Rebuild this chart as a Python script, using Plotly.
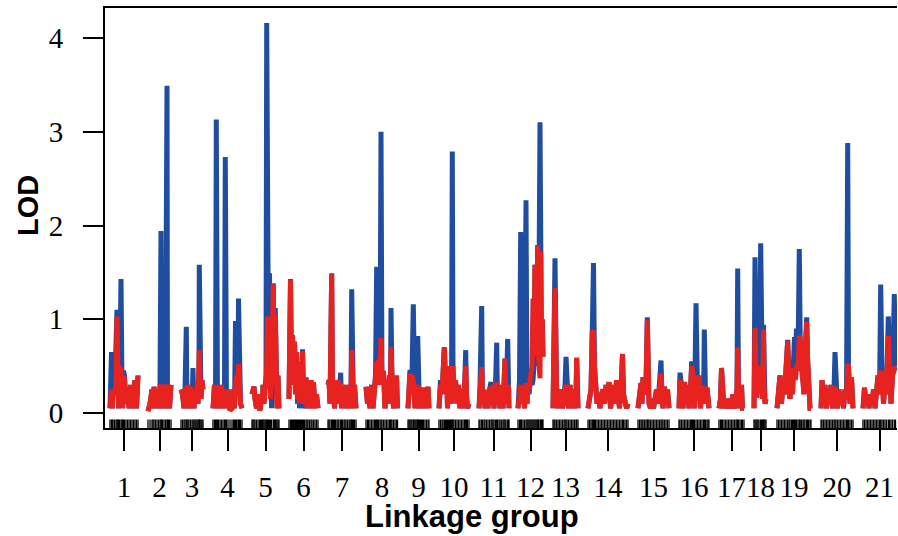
import plotly.graph_objects as go

GROUP_LABELS = [str(i) for i in range(1, 22)]
GROUP_LENGTHS = [28, 23, 22, 29, 27, 29, 28, 32, 21, 30, 29, 25, 25, 40, 31, 30, 25, 13, 34, 32, 33]
GROUP_GAP = 10

POSITIONS = [
    [0, 1.5, 2.2, 3, 4.5, 6, 7, 7.8, 8.5, 9.5, 11, 12, 12.6, 13.5, 14.5, 16, 17.5, 19, 20.5, 22, 23.5, 25, 26.5, 28],
    [0, 2, 4, 5, 6, 7.5, 9, 10.5, 12, 13, 13.5, 14.5, 16, 17.5, 19, 19.5, 20.5, 21.5, 23],
    [0, 1.5, 3, 4, 5.3, 6, 7, 8, 9.5, 11, 12, 13, 14, 15, 16, 17, 18, 18.3, 19, 20, 21, 22],
    [0, 1.5, 2.5, 3.3, 4.5, 5.5, 7, 8.5, 10, 11.5, 12.3, 13.5, 15, 17, 19, 20.5, 21.5, 22.5, 23.5, 25, 25.5, 26.5, 27.5, 29],
    [0, 1, 2, 3, 4.5, 6, 7.5, 8.5, 9.5, 10.5, 11, 12, 13, 14, 14.7, 15.5, 16.5, 17.5, 18.5, 19.5, 21.3, 22.3, 23.3, 24, 25, 26, 27],
    [0, 1.5, 2.5, 3.5, 4.5, 5.5, 6.5, 7.5, 8.5, 9.5, 10.5, 11.5, 12.5, 13.5, 14.5, 15.5, 17, 18, 19, 20.5, 22, 23, 24.5, 26, 27.5, 29],
    [0, 1, 2, 3.7, 4.5, 5.5, 6.5, 7.5, 9, 10, 11, 12.7, 13.5, 14.5, 16, 17, 18, 19.5, 21, 22, 23, 23.7, 24.5, 25.5, 26.5, 28],
    [0, 1.5, 2.5, 4, 5.5, 7, 8.5, 9.5, 10.7, 11.5, 12.5, 14, 15, 16, 17.5, 19, 20.5, 22, 23.5, 24.5, 25, 26, 27.5, 29, 30.5, 31.5],
    [0, 1, 2, 3, 4, 5.3, 6, 7, 8, 9, 9.7, 10.5, 11.5, 12.5, 13.5, 14.5, 15.5, 17, 18.5, 20, 21],
    [0, 1.5, 3, 4, 5.3, 6.5, 7.5, 8.5, 9.5, 10.5, 11.5, 12.5, 13.3, 14, 15, 16.5, 18, 19.5, 21, 22.5, 24, 25.5, 26.7, 27.5, 28.5, 30],
    [0, 1, 2.7, 3.5, 5, 6, 7.5, 9, 10.5, 12, 13, 14, 15, 16.5, 17.7, 18.5, 20, 21, 22.5, 24, 25, 26, 27, 28.7, 29.5, 30],
    [0, 1.5, 2.7, 3.5, 5, 6.5, 8, 9, 10, 11, 12, 13, 14, 15, 16, 17, 18, 19, 19.7, 20.5, 22, 22.7, 23.5, 24.3, 25],
    [0, 1, 2, 3.5, 5, 6.5, 8, 9.5, 11, 12, 13, 14, 15.5, 17, 18.5, 20, 21.5, 23, 23.7, 25],
    [0, 1.5, 3, 4.3, 5.5, 6.5, 7.5, 9, 10.5, 12, 13.5, 15, 16.5, 18, 19.5, 21, 22.5, 24, 25.5, 27, 28.5, 30, 31.5, 33, 34.5, 35.5, 37, 38.5, 40],
    [0, 1.5, 3, 4, 5, 6.5, 8, 9.3, 10, 11, 12.5, 14, 15.5, 17, 18.5, 20, 21.5, 23, 24, 25, 26.5, 28, 29.5, 31],
    [0, 1, 2.5, 4, 5.5, 7, 8.5, 10, 11.5, 12.7, 13.5, 14.5, 15.5, 17, 18.5, 20, 21.5, 23, 24.5, 25.3, 26.5, 28, 29, 30],
    [0, 1.5, 2.5, 3.5, 5, 6.5, 8, 9.5, 11, 12.5, 14, 15.5, 17, 18, 18.7, 19.5, 21, 22.5, 23.5, 25],
    [0, 1, 2, 3, 4, 5, 6.7, 7.5, 8.5, 9.5, 10, 11, 12],
    [0, 1.5, 3, 4.5, 6, 7.5, 9, 10.7, 12, 13, 14.5, 15.5, 16.5, 17.5, 18.5, 19.5, 21, 22.3, 23.2, 24.5, 26, 27, 28, 29.7, 30.5, 31.5, 33, 34],
    [0, 1, 2.5, 4, 5.5, 7, 8.5, 10, 11.5, 13, 14, 15, 16.5, 18, 19.5, 21, 22.5, 24, 25.5, 26.7, 27.5, 29, 30.5, 32],
    [0, 1.5, 3, 4.5, 6, 7.5, 9, 10.5, 12, 13.5, 15, 16.5, 17.7, 19, 20.5, 22, 23.5, 25.3, 26.5, 28, 29.5, 31.3, 32.5],
]

BLUE_LOD = [
    [0.05, 0.65, 0.05, 0.25, 0.2, 1.1, 1.1, 0.3, 0.05, 0.2, 1.43, 0.3, 0.05, 0.45, 0.4, 0.1, 0.25, 0.05, 0.3, 0.05, 0.2, 0.35, 0.05, 0.4],
    [0.02, 0.1, 0.25, 0.05, 0.28, 0.05, 0.25, 0.05, 0.28, 1.94, 0.05, 0.28, 0.05, 0.28, 3.49, 0.05, 0.3, 0.05, 0.3],
    [0.25, 0.2, 0.05, 0.25, 0.92, 0.05, 0.3, 0.1, 0.28, 0.05, 0.48, 0.05, 0.25, 0.1, 0.3, 0.1, 0.4, 1.58, 0.35, 0.15, 0.35, 0.25],
    [0.05, 0.3, 0.05, 3.13, 0.05, 0.3, 0.05, 0.3, 0.05, 0.25, 2.73, 0.05, 0.25, 0.03, 0.05, 0.25, 0.05, 0.98, 0.4, 0.3, 1.22, 0.35, 0.1, 0.05],
    [0.2, 0.28, 0.28, 0.15, 0.05, 0.2, 0.03, 0.05, 0.2, 0.15, 0.3, 0.1, 0.25, 0.4, 4.16, 1.0, 0.6, 1.49, 0.2, 0.05, 1.38, 0.3, 1.12, 0.1, 0.05, 0.4, 0.05],
    [0.15, 1.43, 0.4, 0.83, 0.3, 0.76, 0.2, 0.65, 0.1, 0.55, 0.05, 0.3, 0.15, 0.68, 0.2, 0.05, 0.38, 0.05, 0.3, 0.1, 0.35, 0.05, 0.33, 0.05, 0.2, 0.05],
    [0.3, 0.35, 0.1, 1.49, 0.2, 0.35, 0.05, 0.3, 0.1, 0.35, 0.2, 0.43, 0.05, 0.3, 0.05, 0.25, 0.05, 0.3, 0.05, 0.25, 0.2, 1.32, 0.3, 0.05, 0.3, 0.05],
    [0.28, 0.1, 0.25, 0.05, 0.3, 0.05, 0.25, 0.4, 1.56, 0.3, 0.57, 0.4, 3.0, 0.3, 0.45, 0.05, 0.35, 0.1, 0.4, 0.3, 1.12, 0.35, 0.05, 0.25, 0.4, 0.05],
    [0.05, 0.3, 0.46, 0.2, 0.4, 1.16, 0.25, 0.05, 0.3, 0.2, 0.82, 0.25, 0.05, 0.27, 0.05, 0.25, 0.05, 0.27, 0.05, 0.28, 0.05],
    [0.05, 0.35, 0.2, 0.45, 0.7, 0.35, 0.5, 0.05, 0.45, 0.2, 0.5, 0.1, 2.79, 0.5, 0.2, 0.35, 0.1, 0.3, 0.05, 0.25, 0.05, 0.25, 0.67, 0.2, 0.05, 0.1],
    [0.05, 0.3, 1.14, 0.1, 0.25, 0.05, 0.2, 0.05, 0.25, 0.33, 0.1, 0.3, 0.05, 0.3, 0.75, 0.1, 0.3, 0.05, 0.3, 0.05, 0.3, 0.58, 0.1, 0.79, 0.3, 0.05],
    [0.05, 0.35, 1.93, 0.1, 0.3, 0.05, 2.27, 0.1, 0.3, 0.2, 0.3, 0.4, 0.3, 0.35, 0.5, 1.58, 0.9, 0.6, 1.79, 0.5, 3.1, 1.72, 0.62, 1.0, 0.6],
    [0.05, 1.0, 1.65, 0.3, 0.05, 0.2, 0.25, 0.05, 0.2, 0.3, 0.6, 0.25, 0.05, 0.3, 0.05, 0.25, 0.05, 0.2, 0.59, 0.05],
    [0.05, 0.15, 0.25, 0.88, 1.6, 0.5, 0.25, 0.1, 0.2, 0.05, 0.2, 0.25, 0.1, 0.3, 0.15, 0.33, 0.05, 0.25, 0.3, 0.1, 0.35, 0.2, 0.05, 0.25, 0.63, 0.2, 0.1, 0.05, 0.1],
    [0.05, 0.2, 0.32, 0.1, 0.38, 0.2, 0.3, 1.02, 0.3, 0.1, 0.05, 0.15, 0.05, 0.15, 0.25, 0.1, 0.3, 0.56, 0.2, 0.05, 0.28, 0.1, 0.25, 0.05],
    [0.05, 0.43, 0.3, 0.05, 0.33, 0.15, 0.3, 0.05, 0.25, 0.55, 0.45, 0.3, 0.05, 1.17, 0.25, 0.4, 0.05, 0.3, 0.1, 0.89, 0.2, 0.27, 0.05, 0.05],
    [0.05, 0.15, 0.48, 0.2, 0.05, 0.15, 0.05, 0.1, 0.15, 0.05, 0.2, 0.05, 0.15, 0.25, 1.54, 0.2, 0.05, 0.3, 0.05, 0.05],
    [0.05, 1.66, 0.3, 0.2, 0.5, 0.4, 1.81, 0.4, 0.15, 0.94, 0.3, 0.1, 0.15],
    [0.05, 0.25, 0.4, 0.1, 0.3, 0.2, 0.45, 0.78, 0.3, 0.15, 0.5, 0.2, 0.55, 0.81, 0.6, 0.9, 0.6, 1.75, 0.8, 0.5, 0.35, 0.2, 0.6, 1.02, 0.6, 0.3, 0.05, 0.05],
    [0.05, 0.35, 0.1, 0.3, 0.05, 0.25, 0.1, 0.3, 0.05, 0.25, 0.65, 0.2, 0.05, 0.25, 0.1, 0.2, 0.05, 0.25, 0.15, 2.88, 0.5, 0.1, 0.38, 0.05],
    [0.05, 0.27, 0.1, 0.2, 0.05, 0.2, 0.1, 0.25, 0.05, 0.3, 0.4, 0.2, 1.37, 0.43, 0.1, 0.3, 0.2, 1.03, 0.3, 0.1, 0.4, 1.27, 0.5],
]

RED_LOD = [
    [0.05, 0.25, 0.05, 0.25, 0.2, 0.3, 1.03, 0.55, 0.05, 0.5, 0.45, 0.3, 0.05, 0.4, 0.35, 0.1, 0.25, 0.05, 0.3, 0.05, 0.2, 0.35, 0.05, 0.4],
    [0.02, 0.1, 0.25, 0.05, 0.28, 0.05, 0.25, 0.05, 0.28, 0.28, 0.05, 0.28, 0.05, 0.28, 0.28, 0.05, 0.3, 0.05, 0.3],
    [0.25, 0.2, 0.05, 0.25, 0.28, 0.05, 0.3, 0.1, 0.28, 0.05, 0.25, 0.05, 0.25, 0.1, 0.3, 0.1, 0.4, 0.67, 0.35, 0.15, 0.35, 0.25],
    [0.05, 0.3, 0.05, 0.3, 0.05, 0.3, 0.05, 0.3, 0.05, 0.25, 0.25, 0.05, 0.25, 0.03, 0.05, 0.25, 0.05, 0.3, 0.4, 0.3, 0.52, 0.35, 0.1, 0.05],
    [0.2, 0.28, 0.28, 0.15, 0.05, 0.2, 0.03, 0.05, 0.2, 0.15, 0.3, 0.1, 0.25, 0.3, 0.5, 1.03, 0.6, 0.9, 0.15, 0.4, 1.38, 0.3, 1.05, 0.2, 0.05, 0.4, 0.05],
    [0.15, 1.42, 0.4, 0.83, 0.3, 0.76, 0.2, 0.65, 0.15, 0.55, 0.1, 0.3, 0.15, 0.66, 0.2, 0.1, 0.37, 0.05, 0.3, 0.1, 0.35, 0.05, 0.33, 0.05, 0.2, 0.05],
    [0.3, 0.35, 0.1, 1.48, 0.2, 0.35, 0.05, 0.3, 0.1, 0.35, 0.2, 0.32, 0.05, 0.3, 0.05, 0.25, 0.05, 0.3, 0.05, 0.25, 0.2, 0.67, 0.3, 0.05, 0.3, 0.05],
    [0.28, 0.1, 0.25, 0.05, 0.3, 0.05, 0.25, 0.4, 0.55, 0.3, 0.57, 0.4, 0.8, 0.3, 0.45, 0.05, 0.35, 0.1, 0.4, 0.3, 0.7, 0.35, 0.05, 0.25, 0.4, 0.05],
    [0.05, 0.3, 0.42, 0.2, 0.4, 0.35, 0.25, 0.05, 0.3, 0.2, 0.3, 0.25, 0.05, 0.27, 0.05, 0.25, 0.05, 0.27, 0.05, 0.28, 0.05],
    [0.05, 0.3, 0.2, 0.4, 0.7, 0.35, 0.5, 0.05, 0.45, 0.2, 0.5, 0.1, 0.5, 0.5, 0.2, 0.35, 0.1, 0.3, 0.05, 0.25, 0.05, 0.25, 0.5, 0.2, 0.05, 0.1],
    [0.05, 0.3, 0.49, 0.1, 0.25, 0.05, 0.2, 0.05, 0.25, 0.27, 0.1, 0.3, 0.05, 0.3, 0.3, 0.1, 0.3, 0.05, 0.3, 0.05, 0.3, 0.58, 0.1, 0.3, 0.3, 0.05],
    [0.05, 0.3, 0.3, 0.1, 0.3, 0.05, 0.32, 0.1, 0.3, 0.25, 0.35, 0.4, 0.5, 1.22, 0.6, 1.58, 1.3, 1.0, 1.79, 0.6, 0.37, 1.72, 0.62, 1.0, 0.6],
    [0.05, 1.0, 1.33, 0.3, 0.05, 0.2, 0.25, 0.05, 0.2, 0.3, 0.3, 0.25, 0.05, 0.3, 0.05, 0.25, 0.05, 0.2, 0.59, 0.05],
    [0.05, 0.15, 0.25, 0.88, 0.86, 0.5, 0.25, 0.1, 0.2, 0.05, 0.2, 0.25, 0.1, 0.3, 0.15, 0.33, 0.05, 0.25, 0.3, 0.1, 0.35, 0.2, 0.05, 0.25, 0.63, 0.2, 0.1, 0.05, 0.1],
    [0.05, 0.2, 0.32, 0.1, 0.38, 0.2, 0.3, 0.99, 0.3, 0.1, 0.05, 0.15, 0.05, 0.15, 0.25, 0.1, 0.3, 0.42, 0.2, 0.05, 0.28, 0.1, 0.25, 0.05],
    [0.05, 0.35, 0.3, 0.05, 0.33, 0.15, 0.3, 0.05, 0.25, 0.5, 0.45, 0.3, 0.05, 0.4, 0.25, 0.4, 0.05, 0.3, 0.1, 0.28, 0.2, 0.27, 0.05, 0.05],
    [0.05, 0.15, 0.48, 0.2, 0.05, 0.15, 0.05, 0.1, 0.15, 0.05, 0.2, 0.05, 0.15, 0.25, 0.7, 0.2, 0.05, 0.3, 0.05, 0.05],
    [0.05, 0.91, 0.3, 0.16, 0.5, 0.4, 0.48, 0.4, 0.15, 0.89, 0.3, 0.1, 0.15],
    [0.05, 0.25, 0.4, 0.1, 0.3, 0.2, 0.45, 0.77, 0.3, 0.15, 0.48, 0.2, 0.45, 0.44, 0.35, 0.5, 0.45, 0.82, 0.8, 0.5, 0.35, 0.2, 0.6, 0.97, 0.6, 0.3, 0.05, 0.05],
    [0.05, 0.35, 0.1, 0.3, 0.05, 0.25, 0.1, 0.3, 0.05, 0.25, 0.28, 0.2, 0.05, 0.25, 0.1, 0.2, 0.05, 0.25, 0.15, 0.5, 0.5, 0.1, 0.38, 0.05],
    [0.05, 0.27, 0.1, 0.2, 0.05, 0.2, 0.1, 0.25, 0.05, 0.3, 0.4, 0.2, 0.43, 0.43, 0.1, 0.3, 0.2, 0.82, 0.3, 0.1, 0.4, 0.5, 0.5],
]

BLUE = "#1f4ea1"
RED = "#e8221f"

# cumulative group starts (cM along the genome axis)
starts = []
s = 0.0
for L in GROUP_LENGTHS:
    starts.append(s)
    s += L + GROUP_GAP
centers = [st + L / 2 for st, L in zip(starts, GROUP_LENGTHS)]

bx, by, rx, ry, mx, my = [], [], [], [], [], []
for st, pos, bl, rl in zip(starts, POSITIONS, BLUE_LOD, RED_LOD, strict=True):
    assert len(pos) == len(bl) == len(rl), (len(pos), len(bl), len(rl))
    xs = [st + p for p in pos]
    bx += xs + [None]; by += bl + [None]
    rx += xs + [None]; ry += rl + [None]
    for x in xs:
        mx += [x, x, None]; my += [-0.07, -0.16, None]

fig = go.Figure()
fig.add_trace(go.Scatter(x=bx, y=by, mode="lines", line=dict(color=BLUE, width=5),
                         connectgaps=False, hoverinfo="skip"))
fig.add_trace(go.Scatter(x=rx, y=ry, mode="lines", line=dict(color=RED, width=5),
                         connectgaps=False, hoverinfo="skip"))
fig.add_trace(go.Scatter(x=mx, y=my, mode="lines", line=dict(color="black", width=1.3),
                         connectgaps=False, hoverinfo="skip"))

fig.update_layout(
    width=898, height=536,
    margin=dict(l=105, r=1, t=8, b=108, autoexpand=False),
    paper_bgcolor="white", plot_bgcolor="white",
    showlegend=False,
    xaxis=dict(range=[-5, 787], tickvals=centers, ticktext=GROUP_LABELS,
               tickangle=0, automargin=False,
               showgrid=False, zeroline=False, showline=True, linecolor="black",
               linewidth=2, mirror=True, ticks="outside", ticklen=21, tickwidth=2,
               tickcolor="black", ticklabelstandoff=11,
               tickfont=dict(family="Liberation Serif", size=29, color="black")),
    yaxis=dict(range=[-0.16, 4.32], tickvals=[0, 1, 2, 3, 4], automargin=False,
               showgrid=False, zeroline=False, showline=True, linecolor="black",
               linewidth=2, ticks="outside", ticklen=20, tickwidth=2,
               tickcolor="black", ticklabelstandoff=14,
               tickfont=dict(family="Liberation Serif", size=29, color="black")),
    annotations=[
        dict(text="<b>LOD</b>", x=(28 - 105) / 792, y=(428 - 206) / 420, xref="paper", yref="paper",
             textangle=-90, showarrow=False, xanchor="center", yanchor="middle",
             font=dict(family="Liberation Sans", size=29, color="black")),
        dict(text="<b>Linkage group</b>", x=(472 - 105) / 792, y=(428 - 516) / 420,
             xref="paper", yref="paper", showarrow=False, xanchor="center", yanchor="middle",
             font=dict(family="Liberation Sans", size=31, color="black")),
    ],
)

fig.write_html(
    "out.html",
    config={"displayModeBar": False},
    post_script="document.body.style.margin='0';document.body.style.overflow='hidden';",
)
